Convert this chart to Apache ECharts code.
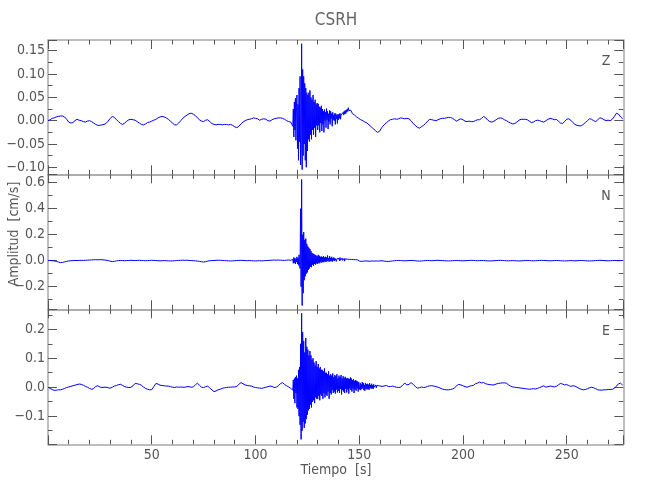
<!DOCTYPE html>
<html>
<head>
<meta charset="utf-8">
<script src="https://cdn.jsdelivr.net/npm/echarts@6/dist/echarts.min.js"></script>
<style>html,body{margin:0;padding:0;background:#fff;}#c{width:650px;height:500px;}</style>
</head>
<body>
<div id="c"></div>
<script>
// ---- DATA (amplitudes in units of 0.001 cm/s) ----
const components = ['Z', 'N', 'E'];
const xTickLabels = [50, 100, 150, 200, 250];
const QUIET_START = 0, QUIET_STEP = 1;      // t = 0..117 s
const BURST_START = 118, BURST_STEP = 0.25; // t = 118..159.75 s
const TAIL_START = 160, TAIL_STEP = 1;      // t = 160..277 s

const zQuiet = [
 0, 2, 5, 6, 8, 9, 10, 10, 8, 3,
 -3, -5, -4, 0, 3, 1, 0, -2, -3, -1,
 0, -2, -5, -8, -10, -10, -9, -8, -6, -1,
 5, 9, 7, 2, -2, -6, -8, -5, -1, 2,
 3, 2, 1, -2, -5, -8, -9, -7, -4, -3,
 -1, 1, 3, 6, 8, 9, 8, 6, 3, -1,
 -5, -9, -9, -5, 0, 5, 9, 12, 15, 16,
 14, 11, 6, 2, -1, -2, 1, 2, -2, -6,
 -8, -9, -8, -8, -9, -8, -8, -9, -8, -10,
 -13, -15, -12, -7, -3, 0, 2, 3, 4, 6,
 5, 4, 1, 3, 4, 3, 0, -1, 2, 4,
 5, 6, 6, 5, 3, 0, -2, -3];
const zBurst = [
 -12, 25, -35, 40, -20, 48, -42, 30,
 55, -60, 35, -85, 70, -45, 95, -95,
 -60, 165, -105, 110, -75, 95, -50, 80,
 -85, 70, -100, 60, -65, 55, -40, 60,
 -45, 65, -30, 50, -40, 45, -20, 55,
 -30, 40, -15, 45, -35, 35, -10, 38,
 -20, 36, -10, 30, -25, 28, -5, 32,
 -22, 25, -8, 20, -25, 24, 0, 18,
 -15, 26, 2, 20, -18, 15, -2, 22,
 -8, 20, 5, 15, -12, 18, 2, 12,
 0, 16, -8, 15, 4, 12, -6, 14,
 2, 14, 5, 16, 3, 12, 8, 15,
 10, 18, 12, 20, 14, 22, 15, 23,
 18, 25, 20, 28, 22, 26, 20, 24,
 22, 18, 20, 15, 18, 13, 16, 12,
 13, 9, 12, 8, 10, 6, 9, 5,
 6, 3, 8, 2, 4, 1, 5, 0,
 1, -2, 2, -3, -1, -4, 0, -5,
 -4, -7, -5, -9, -8, -11, -9, -13,
 -12, -15, -13, -17, -16, -19, -18, -21,
 -20, -23, -21, -25, -22, -24, -21, -23];
const zTail = [
 -20, -14, -9, -5, -1, 2, 3, 4, 3, 4,
 6, 5, 4, 5, 4, 0, -6, -10, -14, -16,
 -13, -10, -6, -1, 3, 2, 1, 0, 2, 4,
 5, 5, 6, 7, 7, 5, 2, -1, 2, 4,
 2, -1, -2, -1, -2, -2, 0, 2, 2, 5,
 9, 6, 1, -2, -3, -1, 2, 5, 6, 5,
 2, 0, -3, -5, -7, -6, -3, 1, 3, 3,
 3, 2, -1, -4, -3, 0, 1, 0, -2, -3,
 0, 3, 5, 4, 2, 3, -1, -5, -6, -2,
 3, 4, 1, -4, -8, -10, -11, -11, -8, -4,
 0, 4, 3, 0, -2, 2, 6, 5, 2, 0,
 1, 0, 3, 9, 16, 14, 8, 4];

const nQuiet = [
 2, 1, 0, -2, -5, -10, -15, -14, -9, -5,
 -2, 0, 1, 2, 1, 2, 3, 2, 3, 4,
 5, 6, 7, 8, 7, 8, 7, 6, 4, 1,
 -4, -7, -5, -1, 1, 2, 1, 0, 1, 2,
 3, 2, 1, 2, 3, 2, 1, 0, 1, 2,
 3, 2, 1, 0, -1, 0, 1, 0, -1, -2,
 -1, 0, 1, 2, 3, 4, 3, 4, 2, 1,
 0, -1, -3, -5, -8, -10, -7, -3, 0, 1,
 2, 3, 4, 3, 2, 1, 0, -1, -2, -1,
 0, 1, 2, 3, 2, 1, 0, 1, 0, -1,
 -2, -1, 0, -1, 0, 1, 2, 3, 4, 5,
 4, 5, 4, 3, 2, 4, 6, 3];
const nBurst = [
 10, -20, 25, -15, 20, -25, 15, -10,
 30, -25, 20, -35, 45, -30, -60, 400,
 -200, 625, -345, 200, -250, 220, -150, 160,
 -120, 170, -100, 130, -90, 110, -70, 100,
 -60, 90, -45, 75, -50, 60, -30, 55,
 -40, 50, -25, 45, -30, 40, -20, 35,
 -25, 45, -15, 38, -20, 30, -10, 32,
 -15, 28, -10, 35, -12, 25, -5, 30,
 -10, 25, -5, 40, 0, 20, -8, 35,
 -5, 22, 0, 30, -8, 18, 2, 25,
 -3, 20, 5, 28, -5, 15, 3, 22,
 0, 18, -2, 25, 3, 15, -4, 20,
 2, 15, 0, 18, -3, 14, 4, 16,
 0, 12, 3, 16, -2, 10, 5, 12,
 2, 10, -3, 12, 4, 8, -2, 10,
 0, 8, 2, 10, -3, 6, 3, 7,
 5, -4, 8, -2, 6, -5, 7, 0,
 8, -3, 6, -4, 5, -2, 7, -1,
 6, -3, 4, -2, 5, -4, 3, 0,
 7, -2, 5, 1, 6, -3, 4, 0,
 4, -2, 3, 0, 2, -3, 3, 1];
const nTail = [
 2, 0, -3, -5, -6, -4, -2, 0, 1, 2,
 1, 0, -1, 0, 1, 2, 1, 0, -2, -3,
 -2, 0, 1, 2, 1, 0, 1, 2, 3, 2,
 1, 0, -1, -2, -1, 0, 1, 2, 1, 0,
 -1, 0, 1, 2, 3, 2, 1, 0, 1, 2,
 1, 0, -1, -2, -1, 0, 1, 2, 3, 2,
 1, 0, -1, 0, 1, 0, -1, -2, -1, 0,
 1, 2, 1, 0, -1, 0, 1, 2, 3, 2,
 1, 0, -1, 0, 1, 2, 1, 0, -1, -2,
 -1, 0, 1, 0, -1, 0, 1, 2, 1, 0,
 -1, -2, -1, 0, 1, 2, 3, 2, 1, 0,
 -1, 0, 1, 2, 1, 0, 1, 2];

const eQuiet = [
 0, -4, -8, -11, -10, -9, -9, -7, -4, -1,
 1, 3, 5, 7, 9, 11, 10, 7, 3, 0,
 -4, -7, -5, 3, 5, 1, -1, 0, 0, -2,
 -3, 0, 4, 6, 9, 10, 6, 2, 0, -1,
 0, 5, 13, 12, 10, 7, 1, -4, -7, -9,
 -8, 2, 13, 11, 7, 6, 5, 4, 4, 2,
 0, -1, 1, 0, 1, 0, 0, 2, 2, 0,
 1, 8, 14, 7, 0, -1, 2, 4, -3, -9,
 -15, -13, -9, -7, -4, -2, -1, 0, 0, 1,
 1, 3, 10, 16, 12, 8, 6, 5, 4, 1,
 -1, -2, -3, -4, -2, 0, 2, 4, 3, -1,
 0, 5, 12, 16, 10, 5, 1, -4];
const eBurst = [
 -10, 25, -40, 30, -55, 35, -20, 40,
 -70, 30, -75, 60, -100, 70, -130, 150,
 -180, 255, -150, 190, -120, 160, -140, 120,
 -125, 170, -110, 140, -95, 130, -80, 110,
 -75, 125, -60, 110, -70, 95, -50, 100,
 -45, 85, -55, 75, -35, 90, -40, 70,
 -40, 80, -30, 65, -45, 70, -25, 60,
 -30, 60, -40, 55, -20, 65, -35, 50,
 -25, 50, -30, 45, -15, 55, -40, 40,
 -20, 45, -25, 40, -10, 48, -20, 35,
 -15, 42, -22, 38, -8, 45, -18, 30,
 -12, 40, -20, 35, -5, 42, -25, 30,
 -10, 38, -15, 32, -20, 36, -5, 30,
 -18, 32, -8, 30, -22, 28, -4, 34,
 -10, 30, -15, 25, -5, 28, -20, 22,
 -8, 25, -12, 22, -4, 20, -15, 18,
 12, -8, 15, -10, 10, -6, 18, -4,
 14, -10, 8, -12, 15, -5, 10, -8,
 12, -6, 9, -9, 14, -3, 8, -5,
 12, -4, 7, -6, 10, 0, 6, -3,
 8, -2, 6, 2, 9, 0, 5, 3];
const eTail = [
 6, 3, 4, 6, 3, 2, 4, 2, 0, -1,
 0, 8, 14, 8, 10, 16, 10, 3, -3, -2,
 1, -1, 0, 3, 5, 5, 4, 2, 0, -3,
 -6, -8, -9, -9, -8, -6, -2, 5, 10, 8,
 5, 2, 0, 3, 5, 6, 12, 14, 18, 15,
 16, 12, 10, 9, 8, 8, 11, 13, 14, 15,
 15, 14, 8, 4, 1, 0, -1, -2, -3, -4,
 -5, -6, -7, -6, -5, -6, -4, -1, 2, 5,
 0, 2, 4, 3, 1, 3, 8, 13, 11, 8,
 9, 6, 3, 5, 4, 0, -4, -7, -9, -8,
 -5, -2, 0, -2, -5, -9, -10, -10, -9, -9,
 -8, -8, -7, -4, 4, 12, 14, 7];

const yRanges = [[-0.115, 0.173], [-0.374, 0.665], [-0.197, 0.269]];
const yDecimals = [2, 1, 1];
const xRange = [0, 277.3];

// ---- BUILD ----
function build(q, b, t) {
  const out = [];
  q.forEach((v, i) => out.push([QUIET_START + i * QUIET_STEP, v / 1000]));
  b.forEach((v, i) => out.push([BURST_START + i * BURST_STEP, v / 1000]));
  t.forEach((v, i) => out.push([TAIL_START + i * TAIL_STEP, v / 1000]));
  return out;
}
const traces = [build(zQuiet, zBurst, zTail), build(nQuiet, nBurst, nTail), build(eQuiet, eBurst, eTail)];

const FONT = "'Liberation Sans Narrow', 'DejaVu Sans Condensed', 'Arial Narrow', sans-serif";
const AXIS_COLOR = '#a8a8a8';
const TICK_COLOR = '#555';
const TEXT_COLOR = '#555';
const LEFT = 48, WIDTH = 575.3;
const panels = [{top: 40, h: 134.3}, {top: 174.3, h: 135}, {top: 309.3, h: 135}];

const grid = [], xAxis = [], yAxis = [], series = [];
panels.forEach((p, i) => {
  grid.push({left: LEFT, top: p.top, width: WIDTH, height: p.h, containLabel: false, outerBoundsMode: 'none'});
  ['bottom', 'top'].forEach(pos => {
    const showLbl = (i === 2 && pos === 'bottom');
    xAxis.push({
      type: 'value', gridIndex: i, position: pos, min: xRange[0], max: xRange[1], interval: 50,
      axisLine: {show: true, onZero: false, lineStyle: {color: AXIS_COLOR, width: 1.5}},
      axisTick: {show: true, inside: true, length: 9, lineStyle: {color: TICK_COLOR, width: 1}},
      minorTick: {show: true, splitNumber: 5, length: 4.5, lineStyle: {color: TICK_COLOR, width: 1}},
      splitLine: {show: false}, minorSplitLine: {show: false},
      axisLabel: {show: showLbl, showMinLabel: false, showMaxLabel: false, margin: 4,
        color: TEXT_COLOR, fontFamily: FONT, fontSize: 14,
        formatter: v => xTickLabels.indexOf(v) >= 0 ? String(v) : ''}
    });
  });
  ['left', 'right'].forEach(pos => {
    const showLbl = pos === 'left';
    const dec = yDecimals[i];
    yAxis.push({
      type: 'value', gridIndex: i, position: pos, min: yRanges[i][0], max: yRanges[i][1],
      splitNumber: i === 0 ? 6 : 5,
      axisLine: {show: true, onZero: false, lineStyle: {color: AXIS_COLOR, width: 1.5}},
      axisTick: {show: true, inside: true, length: 9, lineStyle: {color: TICK_COLOR, width: 1}},
      minorTick: {show: true, splitNumber: 2, length: 4.5, lineStyle: {color: TICK_COLOR, width: 1}},
      splitLine: {show: false}, minorSplitLine: {show: false},
      axisLabel: {show: showLbl, showMinLabel: false, showMaxLabel: false, margin: 3,
        color: TEXT_COLOR, fontFamily: FONT, fontSize: 14,
        formatter: v => v.toFixed(dec).replace('-', '\u2212')}
    });
  });
  series.push({
    type: 'line', xAxisIndex: 2 * i, yAxisIndex: 2 * i, data: traces[i],
    showSymbol: false, symbol: 'none', clip: true,
    lineStyle: {color: '#0000ff', width: 1}, itemStyle: {color: '#0000ff'}
  });
});

const graphic = [
  {type: 'text', x: 336, y: 21, style: {text: 'CSRH', fill: '#666', font: '17px ' + FONT, textAlign: 'center', textVerticalAlign: 'middle'}},
  {type: 'text', x: 336, y: 470, style: {text: 'Tiempo  [s]', fill: TEXT_COLOR, font: '14px ' + FONT, textAlign: 'center', textVerticalAlign: 'middle'}},
  {type: 'text', x: 14, y: 234, rotation: Math.PI / 2, style: {text: 'Amplitud  [cm/s]', fill: TEXT_COLOR, font: '14px ' + FONT, textAlign: 'center', textVerticalAlign: 'middle'}}
];
const compY = [61, 196, 331];
components.forEach((c, i) => graphic.push({
  type: 'text', x: 606, y: compY[i],
  style: {text: c, fill: TEXT_COLOR, font: '14px ' + FONT, textAlign: 'center', textVerticalAlign: 'middle'}
}));

const chart = echarts.init(document.getElementById('c'), null, {renderer: 'canvas'});
chart.setOption({animation: false, backgroundColor: '#fff', grid, xAxis, yAxis, series, graphic});
</script>
</body>
</html>
